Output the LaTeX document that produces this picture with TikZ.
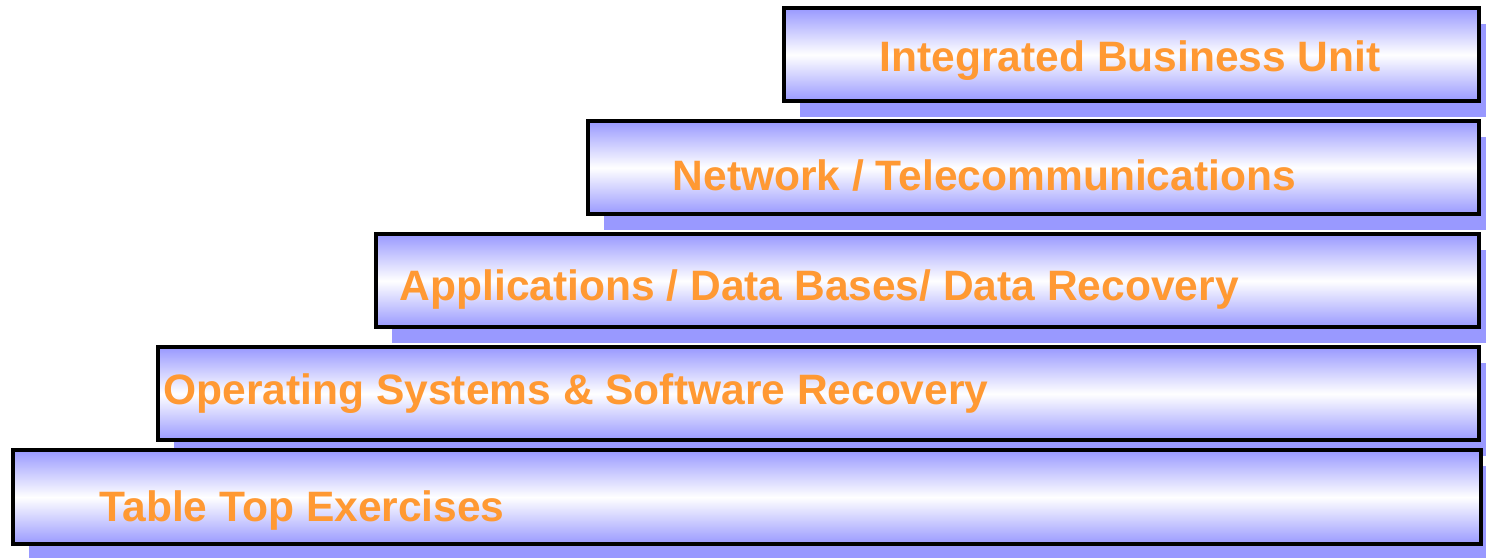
\documentclass[tikz,border=0pt]{standalone}
\usepackage{fontspec}
\setmainfont{Liberation Sans}
\usepackage{tikz}
\usetikzlibrary{shadows}
\definecolor{tierorange}{RGB}{255,153,51}

\begin{document}
\begin{tikzpicture}[scale=1]

	\tikzstyle{tier}=[draw,line width=1pt,rectangle,anchor=south west,inner sep=0pt,minimum height=0.93cm,top color=blue!40,bottom color=blue!40,middle color=white,drop shadow={shadow xshift=0.16cm,shadow yshift=-0.16cm,fill=blue!40,opacity=1}]
	\tikzstyle{tierlabel}=[anchor=base west,inner sep=0pt,text=tierorange,font=\fontsize{12.1}{14}\selectfont\bfseries]

	\useasboundingbox (0,0) rectangle (14.86,5.58);

	\node[tier,minimum width=6.95cm] (unit) at (7.82,4.55) {};
	\node[tier,minimum width=8.91cm] (network) at (5.86,3.42) {};
	\node[tier,minimum width=11.03cm] (apps) at (3.74,2.29) {};
	\node[tier,minimum width=13.21cm] (os) at (1.56,1.16) {};
	\node[tier,minimum width=14.68cm,minimum height=0.94cm] (tabletop) at (0.11,0.12) {};

	\node[tierlabel] (unittext) at (8.79,4.86) {Integrated Business Unit};
	\node[tierlabel] (networktext) at (6.72,3.67) {Network / Telecommunications};
	\node[tierlabel] (appstext) at (3.99,2.57) {Applications / Data Bases/ Data Recovery};
	\node[tierlabel] (ostext) at (1.63,1.53) {Operating Systems \& Software Recovery};
	\node[tierlabel] (tabletoptext) at (0.99,0.36) {Table Top Exercises};

\end{tikzpicture}
\end{document}
